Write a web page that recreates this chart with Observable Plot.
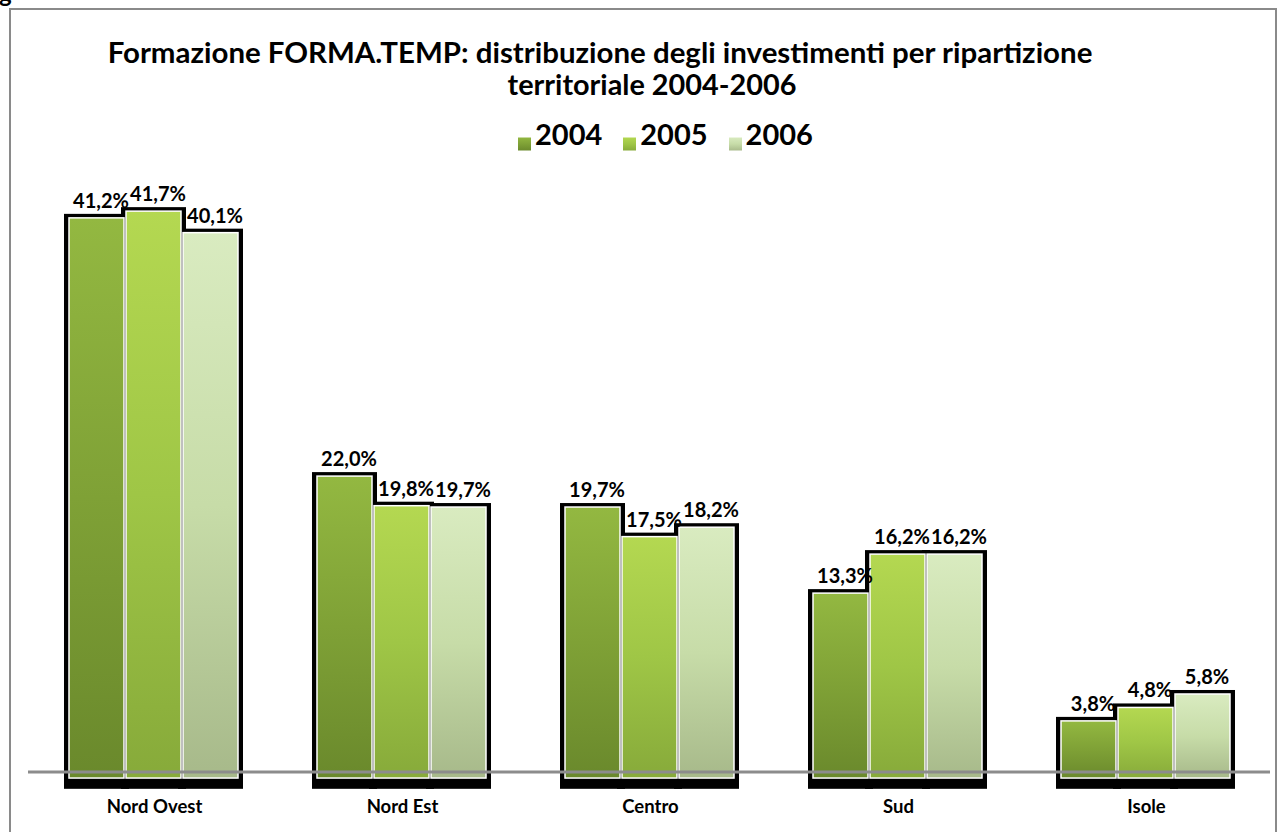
<!DOCTYPE html>
<html>
<head>
<meta charset="utf-8">
<script src="https://cdn.jsdelivr.net/npm/d3@7"></script>
<script src="https://cdn.jsdelivr.net/npm/@observablehq/plot@0.6"></script>
<style>
  body { margin: 0; background: #fff; font-family: Lato, "Open Sans", sans-serif; }
  #wrap { position: relative; width: 1278px; height: 832px; overflow: hidden; background: #fff; }
  #frame { position: absolute; left: 9px; top: 8px; width: 1268px; height: 900px; box-sizing: border-box; border: 2.5px solid #8a8a8a; }
  #cut { position: absolute; left: -1px; top: -22px; font-size: 24px; font-weight: bold; color: #000; }
  .t { position: absolute; white-space: nowrap; font-weight: bold; color: #000; line-height: 1; transform: translate(-50%, -50%); }
  #legend { position: absolute; left: 0; top: 133px; transform: translateY(-50%); display: flex; align-items: center; font-weight: bold; font-size: 29px; line-height: 1; }
  #legend .sw { width: 15px; height: 15px; margin-right: 3px; }
  #chart { position: absolute; left: 0; top: 0; }
</style>
</head>
<body>
<svg width="0" height="0" style="position:absolute">
  <defs>
    <linearGradient id="g2004" x1="0" y1="0" x2="0" y2="1">
      <stop offset="0" stop-color="#93b841"/>
      <stop offset="0.5" stop-color="#7fa136"/>
      <stop offset="1" stop-color="#6a892c"/>
    </linearGradient>
    <linearGradient id="g2005" x1="0" y1="0" x2="0" y2="1">
      <stop offset="0" stop-color="#b4d851"/>
      <stop offset="0.5" stop-color="#9fc646"/>
      <stop offset="1" stop-color="#87aa3a"/>
    </linearGradient>
    <linearGradient id="g2006" x1="0" y1="0" x2="0" y2="1">
      <stop offset="0" stop-color="#d9ebc0"/>
      <stop offset="0.5" stop-color="#c7dca8"/>
      <stop offset="1" stop-color="#a7b98a"/>
    </linearGradient>
  </defs>
</svg>
<div id="wrap">
  <div id="frame"></div>
  <div id="cut">g</div>
  <div id="chart"></div>
  <div class="t" id="t1"></div>
  <div class="t" id="t2"></div>
  <div id="legend"></div>
</div>
<script>
const regions = ["Nord Ovest", "Nord Est", "Centro", "Sud", "Isole"];
const years = ["2004", "2005", "2006"];
const v2004 = [41.2, 22.0, 19.7, 13.3, 3.8];
const v2005 = [41.7, 19.8, 17.5, 16.2, 4.8];
const v2006 = [40.1, 19.7, 18.2, 16.2, 5.8];
const titleLines = ["Formazione FORMA.TEMP: distribuzione degli investimenti per ripartizione", "territoriale 2004-2006"];

const series = {"2004": v2004, "2005": v2005, "2006": v2006};
const data = regions.flatMap((r, i) => years.map(y => ({region: r, year: y, value: series[y][i]})));
const fmt = v => v.toFixed(1).replace(".", ",") + "%";

// title fitting
function fit(el, cx, cy, targetW) {
  el.style.left = cx + "px";
  el.style.top = cy + "px";
  let fs = 24;
  el.style.fontSize = fs + "px";
  const w = el.getBoundingClientRect().width;
  fs = fs * targetW / w;
  el.style.fontSize = fs + "px";
}
document.getElementById("t1").textContent = titleLines[0];
document.getElementById("t2").textContent = titleLines[1];
fit(document.getElementById("t1"), 600, 52, 985);
fit(document.getElementById("t2"), 652, 84, 289);

// legend
const leg = document.getElementById("legend");
years.forEach((y, i) => {
  const item = document.createElement("div");
  item.style.display = "flex";
  item.style.alignItems = "center";
  item.style.marginRight = i < years.length - 1 ? "20px" : "0";
  const sw = document.createElement("div");
  sw.className = "sw";
  sw.innerHTML = `<svg width="15" height="15"><rect x="0.5" y="0.5" width="14" height="14" fill="url(#g${y})" stroke="#fff" stroke-width="1"/></svg>`;
  const tx = document.createElement("span");
  tx.textContent = y;
  item.appendChild(sw);
  item.appendChild(tx);
  leg.appendChild(item);
});
leg.style.left = "517px";

const zeroPx = 772, perUnit = 13.45;
const chart = Plot.plot({
  width: 1278,
  height: 832,
  marginLeft: 30,
  marginRight: 8,
  marginTop: 0,
  marginBottom: 0,
  style: {fontFamily: "Lato, 'Open Sans', sans-serif", background: "transparent", overflow: "visible", color: "#000"},
  fx: {domain: regions, paddingInner: 0.3, paddingOuter: 0.15, axis: null, label: null},
  x: {domain: years, padding: 0.035, axis: null},
  y: {domain: [0, 45], range: [zeroPx, zeroPx - 45 * perUnit], axis: null},
  marks: [
    Plot.barY(data, {fx: "region", x: "year", y1: () => -1.25, y2: "value", fill: "#000", insetLeft: -5, insetRight: -5, insetTop: -4}),
    ...years.map(y => Plot.barY(data.filter(d => d.year === y), {
      fx: "region", x: "year", y1: () => -0.45, y2: "value",
      fill: `url(#g${y})`, stroke: "#ffffff", strokeWidth: 1.5
    })),
    Plot.text(data, {fx: "region", x: "year", y: "value", text: d => fmt(d.value), dy: -17, dx: 4, fontSize: 20, fontWeight: "bold", fill: "#000", lineAnchor: "middle"}),
    Plot.text(regions, {fx: d => d, y: () => -2.6, text: d => d, fontSize: 18.5, fontWeight: "bold", fill: "#000", lineAnchor: "middle"})
  ]
});
const ys = chart.scale("y");
d3.select(chart).append("line")
  .attr("x1", 28).attr("x2", 1270)
  .attr("y1", ys.apply(0)).attr("y2", ys.apply(0))
  .attr("stroke", "#8c8c8c").attr("stroke-width", 3);
document.getElementById("chart").appendChild(chart);
</script>
</body>
</html>
